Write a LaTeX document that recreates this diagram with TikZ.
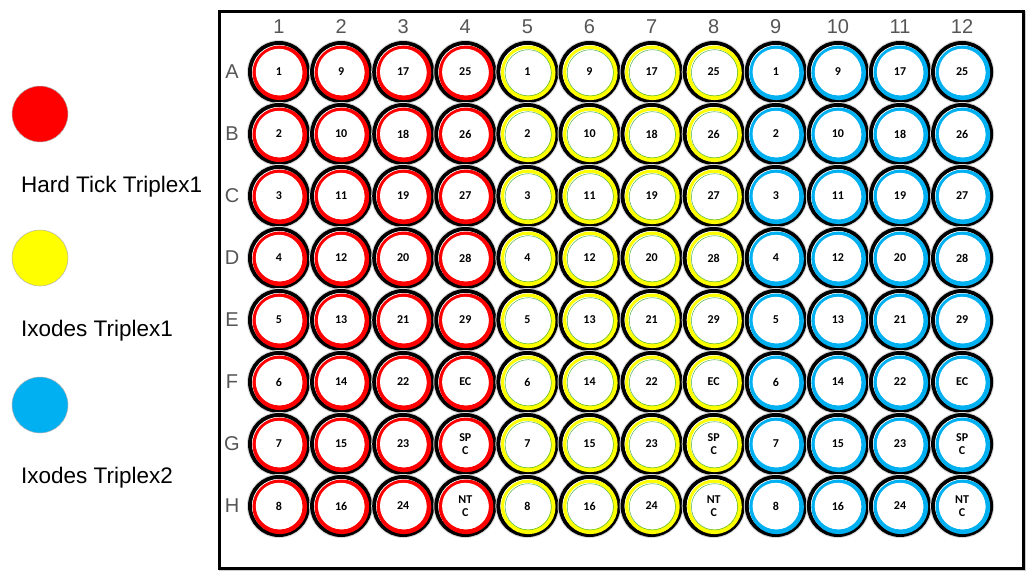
\documentclass[tikz,border=0pt]{standalone}
\usepackage{fontspec}
\setmainfont{Liberation Sans}
\newfontfamily\wellfont{Carlito}
\definecolor{wred}{RGB}{255,0,0}
\definecolor{wyel}{RGB}{255,255,0}
\definecolor{wblue}{RGB}{0,176,240}
\definecolor{lblgray}{RGB}{85,85,85}
\begin{document}
\begin{tikzpicture}[x=1pt,y=-1pt,
  legdot/.style={circle,minimum size=56pt,inner sep=0pt,draw=gray!60,line width=0.5pt},
  legtxt/.style={anchor=west,inner sep=0pt,font=\fontsize{22.5}{26}\selectfont},
  axlbl/.style={font=\fontsize{20}{24}\selectfont,text=lblgray},
  welltxt/.style={font=\wellfont\bfseries\fontsize{12}{13.5}\selectfont,align=center,inner sep=0pt},
  plate/.style={draw=black,line width=3pt}]
\useasboundingbox (0,0) rectangle (1028,581);
% legend
\node[legdot,fill=wred] (lr) at (40,114) {};
\node[legtxt] (tr) at (21,187) {Hard Tick Triplex1};
\node[legdot,fill=wyel] (ly) at (40,258) {};
\node[legtxt] (ty) at (21,331) {Ixodes Triplex1};
\node[legdot,fill=wblue] (lb) at (40,405) {};
\node[legtxt] (tb) at (21,478) {Ixodes Triplex2};
% plate
\draw[gray!40,line width=2pt] (220,12) rectangle (1025,570);
\node[plate,minimum width=804pt,minimum height=557pt,inner sep=0pt,anchor=north west] (pl) at (218,10) {};
% column labels
\foreach \c [count=\i] in {1,...,12} {
  \pgfmathsetmacro{\xx}{279+62.1*(\i-1)}
  \node[axlbl] (col\i) at (\xx,27) {\c};
}
% row labels
\foreach \r [count=\j] in {A,B,C,D,E,F,G,H} {
  \pgfmathsetmacro{\yy}{72+62*(\j-1)}
  \node[axlbl] (row\r) at (232,\yy) {\r};
}
% wells
\newcommand{\mywell}[4]{% x y colour text
  \fill[gray!30] (#1,#2) circle (32);
  \draw[black,line width=4pt] (#1,#2) circle (29);
  \fill[white] (#1,#2) circle (27);
  \draw[#3,line width=4.6pt] (#1+0.8,#2+0.8) circle (25);
  \fill[white] (#1,#2) circle (23.2);
}
\foreach \j in {1,...,8} {
  \foreach \i in {1,...,12} {
    \pgfmathsetmacro{\xx}{279+62.1*(\i-1)}
    \pgfmathsetmacro{\yy}{72+62*(\j-1)}
    \pgfmathtruncatemacro{\grp}{int((\i-1)/4)}
    \ifcase\grp
      \mywell{\xx}{\yy}{wred}{}
    \or
      \mywell{\xx}{\yy}{wyel}{}
      \draw[gray!60!green,line width=0.5pt] (\xx+0.8,\yy+0.8) circle (23.1);
    \or
      \mywell{\xx}{\yy}{wblue}{}
    \fi
  }
}
% well labels
\foreach \lst [count=\j] in {
  {1,9,17,25},{2,10,18,26},{3,11,19,27},{4,12,20,28},
  {5,13,21,29},{6,14,22,EC},{7,15,23,SP\\C},{8,16,24,NT\\C}} {
  \foreach \t [count=\k] in \lst {
    \foreach \g in {0,1,2} {
      \pgfmathsetmacro{\xx}{279+62.1*(\k-1+4*\g)}
      \pgfmathsetmacro{\yy}{72+62*(\j-1)}
      \pgfmathtruncatemacro{\wi}{\k+4*\g}
      \node[welltxt] (w\j-\wi) at (\xx,\yy) {\t};
    }
  }
}
\end{tikzpicture}
\end{document}
